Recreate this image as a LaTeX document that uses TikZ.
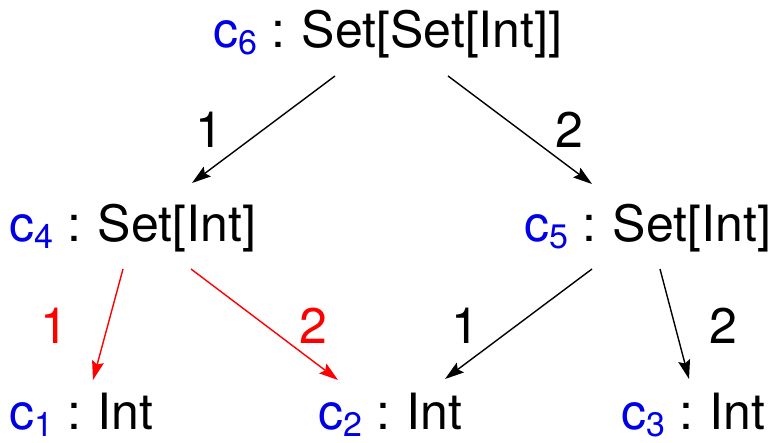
\documentclass[tikz,border=0pt]{standalone}
\usepackage{fontspec}
\setmainfont{TeX Gyre Heros}
\usetikzlibrary{arrows.meta,calc}
\definecolor{cblue}{RGB}{0,0,230}
\definecolor{cred}{RGB}{255,0,0}
\newcommand\cvar[1]{\textcolor{cblue}{c\raisebox{-7pt}{\fontsize{34}{34}\selectfont #1}}\hspace{14pt}:\hspace{17pt}}
\begin{document}
\begin{tikzpicture}[x=1pt,y=1pt,
  lbl/.style={inner sep=0pt,anchor=base west,font=\fontsize{50}{60}\selectfont},
  num/.style={inner sep=0pt,anchor=base,font=\fontsize{50}{60}\selectfont},
  arr/.style={line width=1.4pt,-{Stealth[length=19pt,width=12pt,inset=3pt]}},
  redarr/.style={arr,draw=cred,-{Stealth[length=19pt,width=12pt,inset=3pt,fill=cred]}}]
\useasboundingbox (0,0) rectangle (776,442);
% nodes (base west)
\node[lbl] (c6) at (213,394) {\cvar{6}Set[Set[Int]]};
\node[lbl] (c4) at (9,200) {\cvar{4}Set[Int]};
\node[lbl] (c5) at (524,200) {\cvar{5}Set[Int]};
\node[lbl] (c1) at (9,13) {\cvar{1}Int};
\node[lbl] (c2) at (318,13) {\cvar{2}Int};
\node[lbl] (c3) at (621,13) {\cvar{3}Int};
% connectors
\draw[arr] ($(c6.base west)+(122,-28)$) -- ($(c4.base west)+(183,59)$);
\draw[arr] ($(c6.base west)+(235,-28)$) -- ($(c5.base west)+(68,58)$);
\draw[redarr] ($(c4.base west)+(114,-27)$) -- ($(c1.base west)+(84,49)$);
\draw[redarr] ($(c4.base west)+(182,-27)$) -- ($(c2.base west)+(20,49)$);
\draw[arr] ($(c5.base west)+(68,-27)$) -- ($(c2.base west)+(127,50)$);
\draw[arr] ($(c5.base west)+(136,-27)$) -- ($(c3.base west)+(68,50)$);
% labels
\node[num] (l1) at (209,294) {1};
\node[num] (l2) at (569,294) {2};
\node[num,text=cred] (l3) at (54,99) {1};
\node[num,text=cred] (l4) at (313,99) {2};
\node[num] (l5) at (465,99) {1};
\node[num] (l6) at (723,99) {2};
\end{tikzpicture}
\end{document}
